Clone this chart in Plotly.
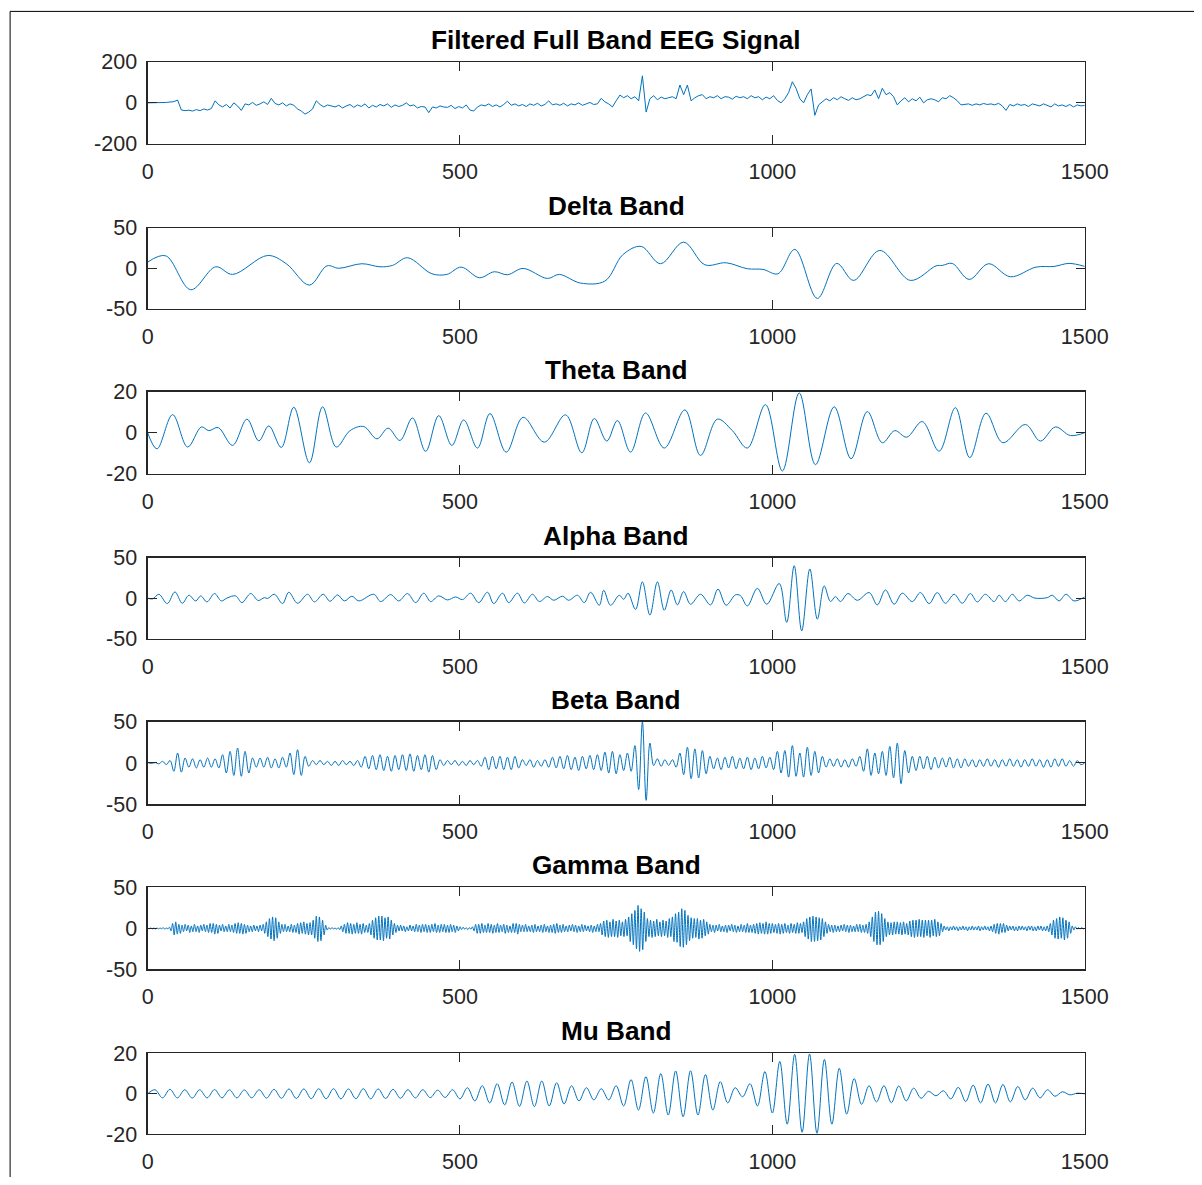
import plotly.graph_objects as go

# ---------------- data ----------------
# Full band EEG: values every 6 samples from 0 to 1500
full_step = 6
full_v = [
    0, 0, 1, 1, 2, 2, 4, 6, 14, -35,
    -38, -36, -40, -33, -38, -30, -35, -28, 10, -10,
    -20, -8, -25, 0, -15, -37, -5, -10, 2, -12,
    -5, 5, -8, 22, -3, -10, 0, -15, -5, -12,
    -30, -40, -55, -45, -30, 10, -8, -20, -10, -15,
    -20, -12, -25, -15, -8, -22, -10, -18, -5, -25,
    -12, -20, -8, -15, -5, -22, -10, -18, -12, 0,
    -15, -10, -25, -18, -20, -48, -20, -25, -15, -20,
    -22, -12, -28, -18, -25, -10, -35, -40, -20, -10,
    -15, -5, -18, -10, -20, -8, 8, -12, -5, -15,
    -8, -18, -5, -12, -2, -15, -8, 10, -10, -5,
    -12, -2, -15, -5, -10, 0, -12, -5, 2, -8,
    -5, 22, 5, -5, -20, 10, 38, 25, 35, 20,
    30, 10, 132, -45, 20, 35, 15, 28, 20, 25,
    30, 20, 87, 40, 87, 10, 25, 35, 40, 20,
    30, 25, 35, 20, 30, 28, 18, 32, 25, 30,
    20, 35, 25, 30, 15, 28, 20, 35, 12, 0,
    20, 50, 103, 70, 20, 0, 40, 68, -61, -10,
    5, 20, 10, 25, 15, 30, 20, 12, 25, 15,
    20, 30, 40, 35, 63, 20, 71, 40, 50, 30,
    -10, 10, 25, 5, 20, 10, 28, 0, 15, 20,
    15, 5, 25, 20, 35, 25, 10, -10, -8, -5,
    -12, -5, -10, -3, -8, -5, -10, -2, -15, -37,
    -8, -15, -5, -12, -8, -18, -5, -10, -15, -5,
    -12, -20, -5, -15, -10, -18, -8, -20, -10, -15,
    -12,
]

# Delta band: turning points (sample, value)
delta_x = [0, 29, 69, 109, 136, 192, 222, 259, 287, 306, 343, 372, 392, 416, 455,
           479, 502, 531, 555, 576, 601, 640, 659, 693, 732, 761, 790, 821, 858, 892,
           926, 960, 985, 1009, 1036, 1072, 1103, 1130, 1172, 1221, 1262, 1272, 1288,
           1315, 1346, 1381, 1422, 1451, 1475, 1500]
delta_y = [7.6, 15.4, -26.5, 1.8, -7.6, 15.8, 5.6, -20.8, 3, 0, 5.6, 1.8, 3.5, 13, -6.8,
           -7.6, 1.4, -11.7, -4.3, -8, -0.2, -12.6, -7.6, -18.3, -15.8, 17, 27, 5.6, 32.3, 4.3,
           6.8, -0.6, -1.4, -6.8, 23.3, -37.2, 6, -15, 22, -15, 3, 3.5, 6,
           -13.8, 5.6, -10.5, 1.4, 2.3, 6, 2.3]

# Theta band: turning points
theta_x = [0, 15, 40, 64, 86, 98, 113, 136, 159, 178, 194, 214, 234, 259, 280,
           302, 324, 346, 367, 385, 404, 424, 445, 466, 487, 506, 528, 548, 574, 601,
           635, 669, 695, 715, 735, 752, 773, 797, 827, 860, 885, 912, 936, 960, 989,
           1016, 1043, 1069, 1099, 1126, 1152, 1176, 1196, 1215, 1240, 1267, 1293, 1316,
           1342, 1369, 1405, 1429, 1453, 1477, 1500]
theta_y = [0, -7.9, 8.8, -7, 2.8, 1, 2.5, -6.2, 6.6, -4, 3.3, -7.2, 12.4, -14.7, 12.6,
           -7, 1, 3, -3, 2.2, -3.8, 7.2, -9.1, 8.3, -6.2, 6.2, -7.5, 9.3, -9.5, 7.5,
           -4.6, 8.7, -9.8, 6.9, -4.1, 5.9, -9.5, 9.6, -7.5, 11.1, -11.1, 6.6, 1, -7.5, 13.7,
           -18.7, 19.4, -15.6, 12.6, -12.7, 10.3, -4.9, 1, -2.2, 5.4, -9, 12.2, -12.2,
           9.5, -4.9, 4, -4.1, 2.8, -1.4, 0]

# Alpha band: turning points
alpha_x = [0, 8, 18, 31.5, 43.7, 55.5, 66, 77, 85, 95, 107, 118, 127, 141, 151, 165, 177,
           187, 192, 203, 216, 226, 240, 256, 267, 281, 292, 304, 315, 327, 338, 362, 373,
           389, 402, 416, 429, 442, 453, 466, 480, 493, 504, 517, 530, 544, 554, 568, 578,
           592, 603, 616, 627, 640, 650, 664, 674, 688, 699, 709, 723, 730, 741, 755, 762,
           769, 781, 792, 804, 816, 827, 838, 848, 858, 869, 885, 901, 913, 926, 941, 949,
           960, 976, 991, 1011, 1023, 1035, 1047, 1060, 1072, 1083, 1093, 1101, 1109, 1121,
           1136, 1155, 1168, 1181, 1195, 1208, 1224, 1237, 1251, 1264, 1277, 1291, 1304,
           1317, 1328, 1341, 1355, 1363, 1373, 1384, 1395, 1408, 1420, 1440, 1448, 1459,
           1470, 1483, 1500]
alpha_y = [0, -1, 4.7, -6.8, 7.6, -6.4, 3.5, -3.5, 2.7, -4.7, 5.6, -3.5, 0, 2.7, -5.6, 5.6, -3,
           0.6, -0.5, 4.7, -6.8, 7.2, -6.4, 4.7, -4.7, 4.7, -3.9, 3.9, -3.5, 2.3, -3.5, 4.7, -4.3,
           4.3, -3.5, 5.6, -5.6, 6, -4.3, 2.7, -2.3, 1.4, -1.9, 6, -5.6, 7.2, -6.8, 6, -5.6,
           6, -6, 4.7, -4.3, 1.9, -2.7, 2.3, -2.7, 3.5, -5.6, 7.2, -8.9, 9.7, -8.9, 3.5, -1.5,
           6, -14, 20, -21, 20, -15, 10, -8.4, 8, -7.6, 4.7, -8.4, 11, -8.8, 4, 3,
           -9.7, 12, -7.6, 18, -30, 40, -40.5, 36, -26, 15, -4.3, 1.8, -4.3, 5.6,
           -2.7, 6.8, -8.4, 10, -7.6, 6, -4.3, 6.8, -6.8, 6.8, -6.4, 4.7, -6.4,
           5.6, -4.7, 4.7, -4.3, 3.5, -4.3, 4.7, -3.5, 3.5, 0, 0.5, 3.5, -3.5,
           4.7, -3.5, 1.5]

# Beta band: successive peaks/troughs, half-period of 6 samples
beta_step = 6
beta_v = [
    0.5, -0.5, 0.5, -1, 2, -2, 3, -10, 12, -11,
    6, -5, 5, -6, 4, -5, 6, -5, 5, -6,
    10, -12, 14, -15, 18, -16, 14, -12, 6, -5,
    6, -5, 7, -6, 5, -6, 7, -5, 12, -14,
    16, -15, 8, -4, 3, -2, 3, -2, 2, -3,
    2, -3, 3, -2, 2, -3, 3, -5, 8, -7,
    9, -8, 10, -9, 8, -10, 9, -8, 10, -9,
    11, -10, 9, -8, 10, -11, 9, -8, 4, -3,
    3, -2, 3, -3, 2, -3, 3, -2, 3, -4,
    7, -8, 8, -7, 8, -8, 7, -8, 8, -6,
    4, -3, 4, -5, 3, -4, 4, -5, 7, -6,
    8, -7, 9, -8, 7, -9, 8, -7, 9, -8,
    10, -9, 13, -12, 14, -13, 10, -9, 12, -10,
    21, -32, 50, -45, 24, -3, 5, -4, 4, -3,
    4, -5, 12, -14, 19, -19, 17, -18, 15, -13,
    8, -7, 6, -8, 7, -6, 8, -7, 6, -7,
    7, -8, 6, -7, 8, -6, 7, -8, 14, -12,
    15, -17, 21, -16, 12, -17, 19, -15, 14, -12,
    8, -5, 5, -4, 5, -5, 4, -5, 5, -4,
    8, -10, 17, -15, 12, -13, 14, -15, 20, -18,
    24, -25, 15, -12, 8, -9, 8, -7, 8, -8,
    7, -6, 6, -5, 7, -6, 5, -6, 5, -4,
    4, -5, 4, -4, 5, -4, 4, -5, 4, -4,
    5, -4, 4, -5, 4, -4, 5, -4, 4, -5,
    4, -5, 5, -4, 5, -4, 3, -4, 3, -2,
    0,
]

# Gamma band: successive peaks/troughs, half-period of 2.5 samples
gamma_step = 2.5
gamma_v = [
    0.5, -0.5, 0.5, -0.5, 0.5, -0.5, 0.5, -0.5, 0.5, -0.5, 1, -1, 0.5, -0.5, 1.5, -3, 6, -8, 8, -7,
    5, -6, 4, -4, 5, -3, 4, -5, 3, -4, 5, -4, 3, -5, 4, -3, 5, -4, 4, -5,
    6, -5, 6, -7, 5, -6, 4, -3, 5, -4, 3, -4, 5, -4, 4, -5, 6, -6, 7, -6,
    6, -7, 5, -6, 4, -4, 3, -4, 4, -3, 3, -4, 4, -3, 5, -6, 8, -10, 12, -13,
    14, -15, 13, -12, 8, -6, 5, -4, 5, -4, 3, -4, 5, -5, 4, -5, 6, -7, 7, -6,
    8, -7, 6, -8, 7, -8, 10, -12, 15, -16, 14, -15, 10, -8, 4, -2, 1, -1, 1, -0.5,
    0.5, -1, 1, -1.5, 3, -4, 5, -6, 7, -6, 6, -7, 5, -6, 7, -6, 5, -7, 6, -5,
    4, -5, 6, -8, 10, -12, 13, -14, 15, -14, 15, -15, 13, -12, 14, -13, 10, -8, 6, -5,
    4, -3, 4, -3, 3, -4, 2, -3, 4, -3, 3, -4, 5, -4, 4, -5, 5, -4, 5, -5,
    4, -5, 5, -4, 6, -5, 4, -5, 5, -4, 5, -5, 4, -5, 5, -4, 4, -5, 3, -3,
    2, -1.5, 1.5, -1, 1, -1.5, 1, -1, 2, -3, 5, -6, 5, -6, 6, -5, 4, -5, 6, -5,
    5, -6, 4, -5, 6, -5, 4, -4, 5, -6, 4, -5, 3, -5, 6, -5, 6, -7, 5, -4,
    4, -4, 5, -4, 3, -4, 4, -5, 5, -4, 3, -4, 4, -5, 5, -4, 3, -5, 4, -5,
    5, -6, 6, -5, 4, -5, 5, -4, 3, -4, 4, -3, 5, -4, 4, -5, 3, -4, 5, -4,
    4, -3, 3, -4, 4, -5, 3, -4, 5, -4, 6, -8, 9, -10, 10, -11, 8, -10, 11, -10,
    9, -11, 10, -9, 8, -10, 11, -9, 14, -16, 18, -20, 22, -25, 28, -28, 24, -26, 20, -16,
    12, -10, 10, -11, 9, -10, 11, -9, 8, -10, 10, -9, 9, -11, 12, -10, 14, -16, 18, -17,
    20, -22, 24, -23, 22, -20, 16, -15, 13, -12, 12, -11, 12, -13, 10, -12, 11, -9, 8, -7,
    5, -4, 4, -5, 4, -3, 5, -4, 3, -4, 4, -5, 4, -3, 5, -4, 4, -5, 3, -4,
    5, -4, 4, -5, 6, -5, 4, -5, 5, -6, 6, -7, 7, -6, 6, -7, 8, -7, 6, -6,
    6, -5, 5, -6, 6, -7, 5, -6, 6, -5, 4, -6, 6, -5, 5, -6, 7, -6, 6, -5,
    8, -10, 12, -13, 14, -16, 15, -16, 14, -15, 13, -14, 12, -10, 8, -6, 5, -4, 4, -5,
    4, -4, 3, -4, 4, -3, 5, -4, 4, -5, 4, -4, 3, -4, 5, -4, 5, -5, 4, -5,
    5, -6, 8, -10, 14, -16, 20, -20, 21, -20, 18, -16, 12, -10, 8, -8, 7, -8, 8, -7,
    8, -7, 7, -8, 8, -7, 6, -8, 9, -10, 10, -11, 10, -10, 11, -10, 10, -11, 10, -9,
    10, -11, 10, -9, 11, -10, 8, -9, 6, -4, 3, -2, 2, -3, 2, -2, 3, -2, 2, -3,
    2, -2, 3, -2, 2, -3, 2, -2, 3, -2, 2, -2, 3, -3, 2, -2, 3, -2, 2, -3,
    3, -4, 5, -6, 6, -7, 6, -5, 6, -5, 4, -3, 3, -2, 3, -3, 2, -3, 3, -2,
    3, -2, 2, -3, 3, -2, 3, -3, 2, -3, 3, -2, 3, -3, 2, -3, 3, -4, 6, -8,
    10, -12, 12, -13, 14, -12, 13, -14, 10, -12, 8, -6, 3, -2, 2, -1, 1, -1, 1, -0.5,
    0,
]

# Mu band: successive peaks/troughs spread evenly over 0..1500
mu_v = [
    0,
    2, -2, 2.2, -2, 2, -2.1, 2, -2, 2.1, -2, 2, -2, 1.9, -2, 2, -2.1, 2.2, -2.2, 2.4, -2.3,
    2.4, -2.4, 2.5, -2.4, 2.5, -2.5, 2.4, -2.4, 2.5, -2.5, 2.4, -2.3, 2.2, -2.2, 2, -2, 2, -1.9,
    1.8, -1.8, 2,
    -2.5, 3, -3.5, 4, -4.5, 5, -5.5, 5.8, -6.2, 6.3, -6.3, 6.3, -6, 5.5, -5, 4, -3.5, 3, -3,
    2.5, -3, 4, -6, 7, -8, 8.5, -9.5, 10, -10.5, 11.3, -11.3, 11.4, -10.5, 9.5, -8, 6, -4.5, 3,
    -1.5, 5, -6, 11, -9.5, 16, -15, 19.5, -19, 19.7, -19.5, 17, -15, 12.6, -10, 7.5, -5.2, 4,
    -4, 4, -4.4, 3.9, -3.5, 2.8, -2.2, 1.2, -1, 1.5, -2.5, 3.2, -3.8, 4.3, -4.5, 4.8, -4.5, 4.6,
    -4, 3.6, -3, 2.8, -2, 2, -1.2, 1, -0.5, 0.3, 0,
]

titles = ["Filtered Full Band EEG Signal", "Delta Band", "Theta Band", "Alpha Band",
          "Beta Band", "Gamma Band", "Mu Band"]
y_limits = [200, 50, 20, 50, 50, 50, 20]
x_ticks = [0, 500, 1000, 1500]

# ---------------- layout geometry ----------------
W, H = 1230, 1169
# measured placement of the rendered figure in the final picture
OX, SX = 13.4, 0.9755
OY, SY = 18.1, 0.98


def fx(px):
    return (px - OX) / SX


def fy(py):
    return (py - OY) / SY


X_LEFT, X_RIGHT = fx(147), fx(1084)
TOPS = [fy(t) for t in [61, 227, 391, 557, 721, 887, 1053]]
BOTS = [fy(b) for b in [143, 308, 473, 638, 804, 969, 1134]]
LINE_COLOR = "#0072BD"
AX_COLOR = "#262626"
FONT = "Liberation Sans, Arial, Helvetica, sans-serif"

fig = go.Figure()

line = dict(color=LINE_COLOR, width=1)
fig.add_trace(go.Scatter(y=full_v, x0=0, dx=full_step, mode="lines", line=line,
                         xaxis="x", yaxis="y"))
fig.add_trace(go.Scatter(x=delta_x, y=delta_y, mode="lines",
                         line=dict(line, shape="spline", smoothing=1.0), xaxis="x2", yaxis="y2"))
fig.add_trace(go.Scatter(x=theta_x, y=theta_y, mode="lines",
                         line=dict(line, shape="spline", smoothing=1.0), xaxis="x3", yaxis="y3"))
fig.add_trace(go.Scatter(x=alpha_x, y=alpha_y, mode="lines",
                         line=dict(line, shape="spline", smoothing=1.0), xaxis="x4", yaxis="y4"))
fig.add_trace(go.Scatter(y=beta_v, x0=0, dx=beta_step, mode="lines",
                         line=dict(line, shape="spline", smoothing=1.0), xaxis="x5", yaxis="y5"))
fig.add_trace(go.Scatter(y=gamma_v, x0=0, dx=gamma_step, mode="lines",
                         line=dict(line, shape="spline", smoothing=0.8), xaxis="x6", yaxis="y6"))
fig.add_trace(go.Scatter(y=mu_v, x0=0, dx=1500 / (len(mu_v) - 1), mode="lines",
                         line=dict(line, shape="spline", smoothing=1.0), xaxis="x7", yaxis="y7"))

layout = dict(
    width=W, height=H,
    margin=dict(l=0, r=0, t=0, b=0),
    paper_bgcolor="white", plot_bgcolor="white",
    showlegend=False, hovermode=False,
    font=dict(family=FONT, color=AX_COLOR),
)
annotations = []
for i in range(7):
    sfx = "" if i == 0 else str(i + 1)
    lim = y_limits[i]
    common = dict(
        ticks="inside", ticklen=9, tickwidth=1, tickcolor=AX_COLOR,
        showline=True, linecolor=AX_COLOR, linewidth=1.2, mirror="ticks",
        showgrid=False, zeroline=False, fixedrange=True,
        tickfont=dict(family=FONT, size=21.5, color=AX_COLOR),
    )
    layout["xaxis" + sfx] = dict(
        common, domain=[X_LEFT / W, X_RIGHT / W], range=[0, 1500],
        tickmode="array", tickvals=x_ticks, ticktext=[str(v) for v in x_ticks],
        anchor="y" + sfx, ticklabelstandoff=8,
    )
    layout["yaxis" + sfx] = dict(
        common, domain=[1 - BOTS[i] / H, 1 - TOPS[i] / H], range=[-lim, lim],
        tickmode="array", tickvals=[-lim, 0, lim], ticktext=[str(-lim), "0", str(lim)],
        anchor="x" + sfx, ticklabelstandoff=5,
    )
    annotations.append(dict(
        text="<b>" + titles[i] + "</b>", xref="paper", yref="paper",
        x=(X_LEFT + X_RIGHT) / 2 / W, y=1 - TOPS[i] / H,
        xanchor="center", yanchor="bottom", yshift=5, showarrow=False,
        font=dict(family=FONT, size=26.2, color="#000000"),
    ))
layout["annotations"] = annotations
layout["shapes"] = [dict(
    type="rect", xref="paper", yref="paper",
    x0=fx(9.5) / W, x1=fx(1215) / W, y0=1 - fy(1195) / H, y1=1 - fy(10.5) / H,
    line=dict(color="#000000", width=1), fillcolor="rgba(0,0,0,0)", layer="below",
)]
fig.update_layout(**layout)
fig.write_html("out.html", config={"displayModeBar": False, "staticPlot": True})
